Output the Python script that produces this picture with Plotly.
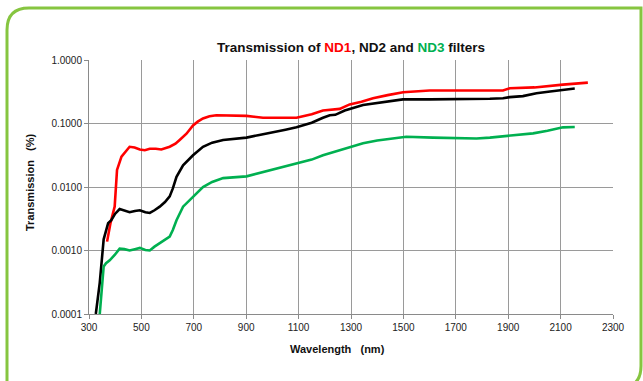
import plotly.graph_objects as go

nd1_wl = [369, 382, 398, 407, 424, 443, 455, 474, 494, 513, 532, 555, 576, 608, 630, 646, 672, 697, 715, 735, 760, 786, 850, 901, 930, 964, 1030, 1092, 1150, 1193, 1257, 1295, 1340, 1384, 1440, 1499, 1600, 1700, 1880, 1906, 2000, 2109, 2150, 2204]
nd1_t = [0.00138, 0.0027, 0.0049, 0.0186, 0.030, 0.038, 0.043, 0.042, 0.039, 0.038, 0.040, 0.040, 0.039, 0.043, 0.048, 0.055, 0.069, 0.093, 0.107, 0.12, 0.13, 0.135, 0.135, 0.132, 0.128, 0.123, 0.123, 0.123, 0.14, 0.16, 0.17, 0.20, 0.22, 0.25, 0.28, 0.31, 0.33, 0.33, 0.33, 0.36, 0.37, 0.41, 0.42, 0.44]

nd2_wl = [326, 341, 356, 373, 385, 400, 417, 435, 455, 475, 494, 515, 532, 550, 570, 590, 608, 620, 634, 659, 697, 735, 770, 812, 901, 950, 1002, 1050, 1092, 1150, 1193, 1219, 1240, 1276, 1346, 1400, 1461, 1498, 1600, 1700, 1817, 1830, 1880, 1906, 1956, 2008, 2060, 2109, 2154]
nd2_t = [0.0001, 0.00031, 0.0015, 0.0027, 0.003, 0.0038, 0.0045, 0.0042, 0.0040, 0.0042, 0.0043, 0.0040, 0.0039, 0.0043, 0.0049, 0.0058, 0.0071, 0.0095, 0.0145, 0.022, 0.0316, 0.043, 0.050, 0.055, 0.060, 0.066, 0.074, 0.080, 0.087, 0.103, 0.123, 0.135, 0.137, 0.16, 0.195, 0.21, 0.225, 0.24, 0.24, 0.24, 0.24, 0.245, 0.25, 0.26, 0.27, 0.30, 0.32, 0.34, 0.355]

nd3_wl = [341, 356, 365, 379, 398, 417, 435, 455, 475, 494, 515, 532, 550, 570, 590, 608, 620, 634, 659, 697, 735, 770, 812, 901, 950, 1002, 1050, 1092, 1150, 1193, 1257, 1295, 1346, 1400, 1448, 1511, 1613, 1700, 1779, 1830, 1880, 1940, 1995, 2050, 2109, 2154]
nd3_t = [0.0001, 0.00056, 0.00063, 0.0007, 0.00085, 0.00107, 0.00105, 0.0010, 0.00105, 0.0011, 0.00102, 0.0010, 0.00115, 0.0013, 0.0015, 0.00166, 0.0021, 0.003, 0.0049, 0.0071, 0.010, 0.012, 0.0138, 0.0147, 0.0165, 0.0186, 0.021, 0.0234, 0.027, 0.0316, 0.038, 0.042, 0.049, 0.054, 0.057, 0.0617, 0.060, 0.059, 0.058, 0.060, 0.063, 0.066, 0.07, 0.077, 0.087, 0.088]

x_ticks = [300, 500, 700, 900, 1100, 1300, 1500, 1700, 1900, 2100, 2300]
y_ticks = [0.0001, 0.001, 0.01, 0.1, 1.0]
y_tick_text = ["0.0001", "0.0010", "0.0100", "0.1000", "1.0000"]

W, H = 643, 381
ML, MR, MT, MB = 89, 30, 60, 67
PW, PH = W - ML - MR, H - MT - MB


def px(x):
    return (x - ML) / PW


def py(y):
    return (H - MB - y) / PH


FONT = "Arial, Liberation Sans, sans-serif"

fig = go.Figure()
fig.add_trace(go.Scatter(x=nd1_wl, y=nd1_t, mode="lines", name="ND1",
                         line=dict(color="#ff0000", width=2.6)))
fig.add_trace(go.Scatter(x=nd2_wl, y=nd2_t, mode="lines", name="ND2",
                         line=dict(color="#000000", width=2.6)))
fig.add_trace(go.Scatter(x=nd3_wl, y=nd3_t, mode="lines", name="ND3",
                         line=dict(color="#00b050", width=2.6)))

# rounded green frame (top-left and bottom-right rounded)
L, T, R, B, r = 7, 8, 641, 388, 22
path = (f"M {px(L)},{py(T + r)} Q {px(L)},{py(T)} {px(L + r)},{py(T)} "
        f"L {px(R)},{py(T)} L {px(R)},{py(B - r)} "
        f"Q {px(R)},{py(B)} {px(R - r)},{py(B)} "
        f"L {px(L)},{py(B)} Z")
fig.add_shape(type="path", path=path, xref="paper", yref="paper",
              line=dict(color="#86c540", width=3), fillcolor="rgba(0,0,0,0)",
              layer="below")

fig.update_layout(
    width=W, height=H,
    margin=dict(l=ML, r=MR, t=MT, b=MB),
    paper_bgcolor="white", plot_bgcolor="white",
    showlegend=False,
    font=dict(family=FONT, size=10, color="#222222"),
    title=dict(
        text="<b>Transmission of <span style='color:#ff0000'>ND1</span>, ND2 and "
             "<span style='color:#00b050'>ND3</span> filters</b>",
        x=0.5, xref="paper", xanchor="center",
        y=1 - 47 / H, yanchor="middle",
        font=dict(family=FONT, size=13.5, color="#111111"),
    ),
    xaxis=dict(range=[300, 2300], tickvals=x_ticks, showgrid=True,
               gridcolor="#9a9a9a", gridwidth=1, showline=True,
               linecolor="#8a8a8a", linewidth=1, mirror=False,
               ticks="outside", ticklen=4, tickcolor="#8a8a8a",
               tickfont=dict(size=10, color="#222222"), zeroline=False),
    yaxis=dict(type="log", range=[-4, 0], tickvals=y_ticks, ticktext=y_tick_text,
               showgrid=True, gridcolor="#9a9a9a", gridwidth=1, showline=True,
               linecolor="#8a8a8a", linewidth=1,
               ticks="outside", ticklen=4, tickcolor="#8a8a8a",
               tickfont=dict(size=10, color="#222222"), zeroline=False),
    annotations=[
        dict(text="<b>Wavelength&nbsp;&nbsp;&nbsp;(nm)</b>", xref="paper", yref="paper",
             x=px(337), y=py(349), showarrow=False, xanchor="center",
             yanchor="middle", font=dict(family=FONT, size=11, color="#111111")),
        dict(text="<b>Transmission&nbsp;&nbsp;&nbsp;(%)</b>", xref="paper", yref="paper",
             x=px(30), y=py(182), showarrow=False, xanchor="center",
             yanchor="middle", textangle=-90,
             font=dict(family=FONT, size=11, color="#111111")),
    ],
)
fig.write_html("out.html", config={"displayModeBar": False},
               post_script="document.body.style.margin='0';")
